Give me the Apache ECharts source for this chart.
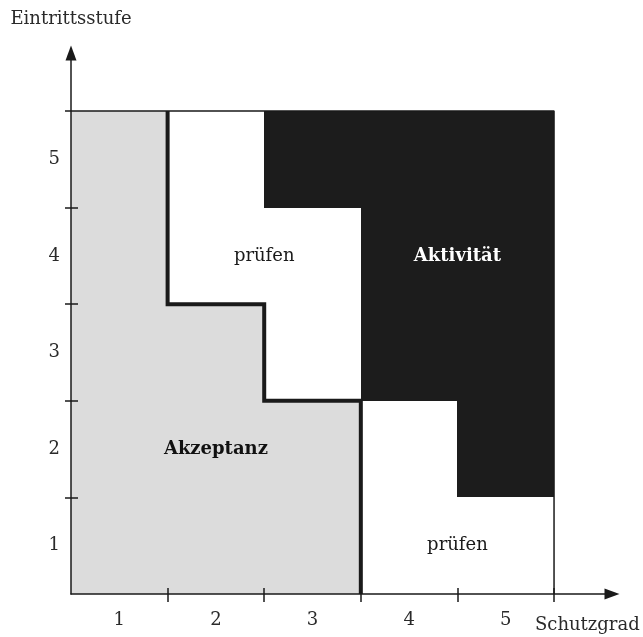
<!DOCTYPE html>
<html>
<head>
<meta charset="utf-8">
<script src="https://cdn.jsdelivr.net/npm/echarts@6/dist/echarts.min.js"></script>
<style>
  html, body { margin: 0; padding: 0; background: #ffffff; }
  #chart { width: 643px; height: 637px; }
</style>
</head>
<body>
<div id="chart"></div>
<script>
// Achsen
const xLabels = ['1', '2', '3', '4', '5']
const yLabels = ['1', '2', '3', '4', '5']
const xName = 'Schutzgrad'
const yName = 'Eintrittsstufe'

// Zonen je Zelle, Zeile 1 (unten) bis Zeile 5 (oben), Spalte 1..5
// A = Akzeptanz, P = prüfen, K = Aktivität
const zoneRows = [
  ['A', 'A', 'A', 'P', 'P'],
  ['A', 'A', 'A', 'P', 'K'],
  ['A', 'A', 'P', 'K', 'K'],
  ['A', 'P', 'P', 'K', 'K'],
  ['A', 'P', 'K', 'K', 'K'],
]

// Grenze Akzeptanz / prüfen (dicke Linie)
const boundary = [[1, 5], [1, 3], [2, 3], [2, 2], [3, 2], [3, 0]]
// Außenrand oben / rechts
const outline = [[0, 5], [5, 5], [5, 0]]

// Beschriftungen der Zonen
const zoneLabels = [
  { name: 'prüfen', x: 2, y: 3.5, bold: false, color: '#1a1a1a' },
  { name: 'Aktivität', x: 4, y: 3.5, bold: true, color: '#ffffff' },
  { name: 'Akzeptanz', x: 1.5, y: 1.5, bold: true, color: '#111111' },
  { name: 'prüfen', x: 4, y: 0.5, bold: false, color: '#1a1a1a' },
]

const COLORS = {
  A: '#dcdcdc',
  P: '#ffffff',
  K: '#1c1c1c',
  line: '#1a1a1a',
  text: '#2a2a2a',
}
const FONT = '"DejaVu Serif", "Liberation Serif", serif'

const cells = []
zoneRows.forEach((row, r) => {
  row.forEach((z, c) => cells.push([c, r, z]))
})

const halfSteps = xLabels.map((_, i) => i + 0.5)
const wholeSteps = xLabels.map((_, i) => i + 1)

const axisBase = {
  type: 'value',
  min: 0,
  max: 5.6,
  z: 10,
  splitLine: { show: false },
}

const chart = echarts.init(document.getElementById('chart'), null, { renderer: 'canvas' })
chart.setOption({
  animation: false,
  backgroundColor: '#ffffff',
  grid: { left: 71, right: 31, top: 53, bottom: 43 },
  xAxis: [
    {
      ...axisBase,
      name: xName,
      nameLocation: 'end',
      nameGap: -77,
      nameTextStyle: {
        fontFamily: FONT, fontSize: 18, color: COLORS.text,
        align: 'left', verticalAlign: 'top', padding: [22, 0, 0, 0],
      },
      axisLine: {
        show: true,
        lineStyle: { color: COLORS.line, width: 1.5 },
        symbol: ['none', 'triangle'],
        symbolSize: [11, 15],
      },
      axisTick: { show: true, customValues: wholeSteps, length: 8, lineStyle: { color: COLORS.line, width: 1.5 } },
      axisLabel: {
        customValues: halfSteps,
        formatter: (v) => xLabels[Math.floor(v)] || '',
        margin: 17,
        fontFamily: FONT, fontSize: 18, color: COLORS.text,
      },
    },
    {
      ...axisBase,
      position: 'bottom',
      axisLine: { show: false },
      axisTick: { show: true, inside: true, customValues: wholeSteps, length: 6, lineStyle: { color: COLORS.line, width: 1.5 } },
      axisLabel: { show: false },
    },
  ],
  yAxis: [
    {
      ...axisBase,
      name: yName,
      nameLocation: 'end',
      nameGap: 25,
      nameTextStyle: { fontFamily: FONT, fontSize: 18, color: COLORS.text },
      axisLine: {
        show: true,
        lineStyle: { color: COLORS.line, width: 1.5 },
        symbol: ['none', 'triangle'],
        symbolSize: [11, 15],
      },
      axisTick: { show: true, customValues: wholeSteps, length: 6, lineStyle: { color: COLORS.line, width: 1.5 } },
      axisLabel: {
        customValues: halfSteps,
        formatter: (v) => yLabels[Math.floor(v)] || '',
        margin: 11,
        fontFamily: FONT, fontSize: 18, color: COLORS.text,
      },
    },
    {
      ...axisBase,
      position: 'left',
      axisLine: { show: false },
      axisTick: { show: true, inside: true, customValues: wholeSteps.slice(0, 4), length: 7, lineStyle: { color: COLORS.line, width: 1.5 } },
      axisLabel: { show: false },
    },
  ],
  series: [
    {
      type: 'custom',
      z: 1,
      data: cells,
      renderItem: (params, api) => {
        const c = api.value(0)
        const r = api.value(1)
        const p0 = api.coord([c, r + 1])
        const p1 = api.coord([c + 1, r])
        const x0 = Math.round(p0[0])
        const y0 = Math.round(p0[1])
        const x1 = Math.round(p1[0])
        const y1 = Math.round(p1[1])
        return {
          type: 'rect',
          shape: { x: x0, y: y0, width: x1 - x0, height: y1 - y0 },
          style: { fill: COLORS[cells[params.dataIndex][2]] },
        }
      },
    },
    {
      type: 'line',
      z: 3,
      data: outline,
      symbol: 'none',
      lineStyle: { color: COLORS.line, width: 1.5 },
    },
    {
      type: 'line',
      z: 4,
      data: boundary,
      symbol: 'none',
      lineStyle: { color: COLORS.line, width: 4, join: 'miter' },
    },
    {
      type: 'scatter',
      z: 5,
      symbolSize: 0,
      itemStyle: { opacity: 1 },
      data: zoneLabels.map((d) => ({
        value: [d.x, d.y],
        label: {
          show: true,
          formatter: d.name,
          position: 'inside',
          fontFamily: FONT,
          fontSize: 18,
          fontWeight: d.bold ? 'bold' : 'normal',
          color: d.color,
          opacity: 1,
        },
      })),
    },
  ],
})
</script>
</body>
</html>
